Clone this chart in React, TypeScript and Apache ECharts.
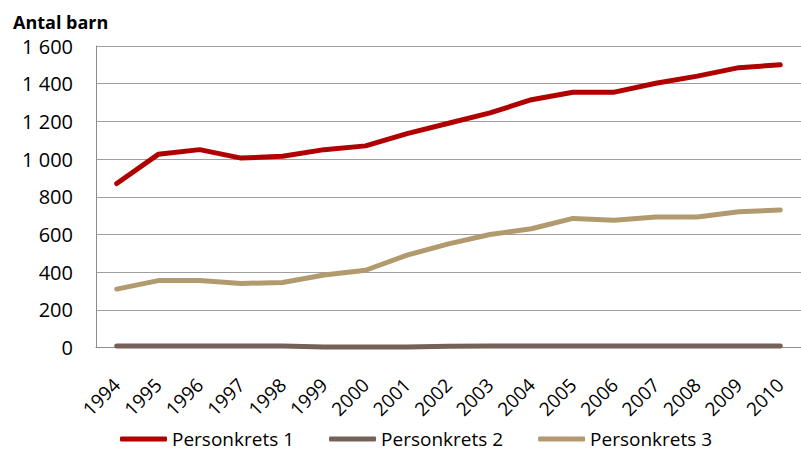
import React, { useEffect, useRef } from "react";
import * as echarts from "echarts";

const years = ["1994","1995","1996","1997","1998","1999","2000","2001","2002","2003","2004","2005","2006","2007","2008","2009","2010"];
const personkrets1 = [870, 1025, 1050, 1005, 1015, 1050, 1070, 1135, 1190, 1245, 1315, 1355, 1355, 1402, 1440, 1485, 1500];
const personkrets2 = [8, 8, 8, 8, 8, 3, 2, 2, 7, 8, 8, 8, 8, 8, 8, 8, 8];
const personkrets3 = [310, 355, 355, 340, 345, 385, 410, 490, 550, 600, 630, 685, 675, 692, 692, 720, 730];
const seriesNames = ["Personkrets 1", "Personkrets 2", "Personkrets 3"];
const colors = ["#B00000", "#75615A", "#B29A6F"];

const FONT = "'Open Sans', 'Noto Sans', sans-serif";

export default function App() {
  const ref = useRef<HTMLDivElement>(null);
  useEffect(() => {
    const chart = echarts.init(ref.current!, null, { renderer: "svg" });
    const data = [personkrets1, personkrets2, personkrets3];
    chart.setOption({
      animation: false,
      title: {
        text: "Antal barn",
        left: 8,
        top: 8,
        textStyle: { fontFamily: FONT, fontWeight: "bold", fontSize: 18, color: "#000" },
      },
      grid: { left: 96, right: -3, top: 46, bottom: 104.5, containLabel: false },
      legend: {
        top: 429,
        left: 120,
        padding: 0,
        itemWidth: 47,
        itemHeight: 5,
        itemGap: 35,
        icon: "roundRect",
        textStyle: { fontFamily: FONT, fontSize: 19, lineHeight: 20, color: "#000" },
        data: seriesNames,
      },
      xAxis: {
        type: "category",
        data: years,
        boundaryGap: true,
        axisLine: { lineStyle: { color: "#8C8C8C", width: 1 } },
        axisTick: { show: false },
        axisLabel: { rotate: 45, fontFamily: FONT, fontSize: 19, color: "#000", margin: 34, interval: 0 },
      },
      yAxis: {
        type: "value",
        min: 0,
        max: 1600,
        interval: 200,
        axisLine: { show: true, lineStyle: { color: "#8C8C8C", width: 1 } },
        axisTick: { show: false },
        splitLine: { lineStyle: { color: "#A0A0A0", width: 1 } },
        axisLabel: {
          fontFamily: FONT,
          fontSize: 20,
          color: "#000",
          margin: 23,
          formatter: (v: number) => (v >= 1000 ? Math.floor(v / 1000) + " " + String(v % 1000).padStart(3, "0") : String(v)),
        },
      },
      series: data.map((d, i) => ({
        name: seriesNames[i],
        type: "line",
        data: d,
        symbol: "none",
        color: colors[i],
        lineStyle: { color: colors[i], width: 5, cap: "round", join: "round" },
        itemStyle: { color: colors[i] },
      })),
    });
    return () => chart.dispose();
  }, []);
  return <div ref={ref} style={{ width: 801, height: 452, position: "absolute", left: 0, top: 0 }} />;
}
